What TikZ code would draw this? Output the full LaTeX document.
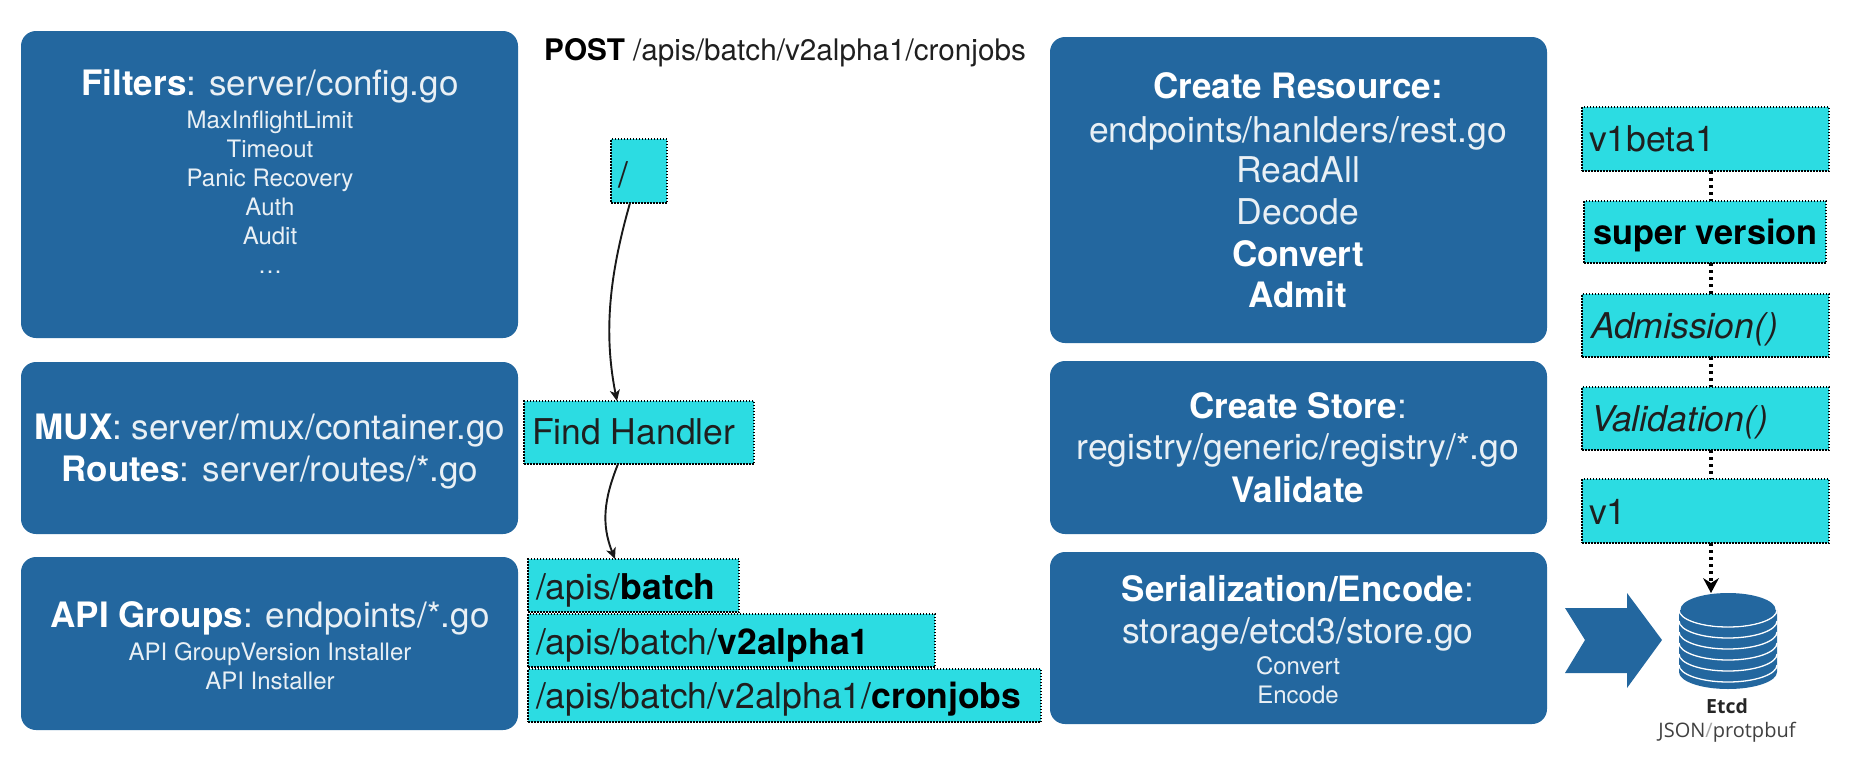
\documentclass[tikz,border=0pt]{standalone}
\usepackage{fontspec}
\setmainfont{TeX Gyre Heros}
\newfontfamily\etcdfont{Open Sans}
\usetikzlibrary{arrows.meta,calc}
\definecolor{panelblue}{HTML}{23679F}
\definecolor{tagcyan}{HTML}{2CDCE2}
\newcommand\fsz[1]{\fontsize{#1}{#1}\selectfont}
\newcommand\hb[1]{{\color{white}\textbf{#1}}}
\newcommand\db[1]{{\color{black}\textbf{#1}}}
\tikzset{
  panel/.style={fill=panelblue,rounded corners=15pt,anchor=north west,inner sep=0pt,outer sep=0pt},
  tag/.style={fill=tagcyan,draw=black,line width=1.5pt,dash pattern=on 1.5pt off 1.5pt,anchor=north west,inner ysep=0pt,outer sep=0pt,align=left,text=black!88,font=\fsz{35.5}},
  lab/.style={anchor=base,inner sep=0pt,text=white!90!panelblue},
  flow/.style={draw=black!90,line width=1.9pt,-{Stealth[length=11pt,width=10pt,inset=3pt]}},
  dotlink/.style={draw=black,line width=3.2pt,dash pattern=on 3.2pt off 3.8pt},
}
% name, x0, y0, x1, y1
\newcommand\panelbox[5]{%
  \pgfmathsetlengthmacro\pw{(#4-#2)*1pt}\pgfmathsetlengthmacro\ph{(#5-#3)*1pt}%
  \node[panel,minimum width=\pw,minimum height=\ph] (#1) at (#2,#3) {};}
% name, x0, y0, x1, y1, baseline, text-left, text
\newcommand\tagbox[8]{%
  \pgfmathsetlengthmacro\tgh{(#6-#3)*1pt}\pgfmathsetlengthmacro\tgd{(#5-#6)*1pt}%
  \pgfmathsetlengthmacro\tgi{(#7-#2)*1pt}\pgfmathsetlengthmacro\tgw{(#4-#2)*1pt-2*\tgi}%
  \node[tag,text height=\tgh,text depth=\tgd,inner xsep=\tgi,text width=\tgw] (#1) at (#2,#3) {\mbox{\spaceskip=0pt\relax\xspaceskip=0pt\relax #8}};}
\begin{document}
\begin{tikzpicture}[x=1pt,y=-1pt]
\useasboundingbox (0,0) rectangle (1866,764);
% panels
\panelbox{filters}{21}{31}{518}{338}
\panelbox{mux}{21}{362}{518}{534}
\panelbox{groups}{21}{557}{518}{730}
\panelbox{resource}{1050}{37}{1547}{343}
\panelbox{store}{1050}{361}{1547}{534}
\panelbox{serial}{1050}{552}{1547}{724}
% panel text
\node[lab,font=\fsz{35}] (t1) at (270,95) {\hb{Filters}: server/config.go};
\node[lab,font=\fsz{24}] (t2) at (270,128) {MaxInflightLimit};
\node[lab,font=\fsz{24}] (t3) at (270,157) {Timeout};
\node[lab,font=\fsz{24}] (t4) at (270,186) {Panic Recovery};
\node[lab,font=\fsz{24}] (t5) at (270,215) {Auth};
\node[lab,font=\fsz{24}] (t6) at (270,244) {Audit};
\node[lab,font=\fsz{24}] (t7) at (270,273) {\dots};
\node[lab,font=\fsz{35}] (t8) at (270,439) {\hb{MUX}: server/mux/container.go};
\node[lab,font=\fsz{35}] (t9) at (270,481) {\hb{Routes}: server/routes/*.go};
\node[lab,font=\fsz{35}] (t10) at (270,627) {\hb{API Groups}: endpoints/*.go};
\node[lab,font=\fsz{24}] (t11) at (270,660) {API GroupVersion Installer};
\node[lab,font=\fsz{24}] (t12) at (270,689) {API Installer};
\node[lab,font=\fsz{35}] (t13) at (1298,98) {\hb{Create Resource:}};
\node[lab,font=\fsz{35.5}] (t14) at (1298,142) {endpoints/hanlders/rest.go};
\node[lab,font=\fsz{35.5}] (t15) at (1298,182) {ReadAll};
\node[lab,font=\fsz{35.5}] (t16) at (1298,224) {Decode};
\node[lab,font=\fsz{35}] (t17) at (1298,266) {\hb{Convert}};
\node[lab,font=\fsz{35}] (t18) at (1298,307) {\hb{Admit}};
\node[lab,font=\fsz{35}] (t19) at (1298,418) {\hb{Create Store}:};
\node[lab,font=\fsz{35.5}] (t20) at (1298,459) {registry/generic/registry/*.go};
\node[lab,font=\fsz{35}] (t21) at (1298,502) {\hb{Validate}};
\node[lab,font=\fsz{35}] (t22) at (1298,601) {\hb{Serialization/Encode}:};
\node[lab,font=\fsz{35.5}] (t23) at (1298,643) {storage/etcd3/store.go};
\node[lab,font=\fsz{24}] (t24) at (1298,674) {Convert};
\node[lab,font=\fsz{24}] (t25) at (1298,703) {Encode};
% request line
\node[anchor=base west,inner sep=0pt,font=\fsz{29.7},text=black!88] (req) at (544,60) {\db{POST} /apis/batch/v2alpha1/cronjobs};
% route tags
\tagbox{root}{611}{139}{667}{203}{187}{618}{/}
\tagbox{find}{524}{401}{754}{464}{444}{532}{Find Handler}
\tagbox{batch}{528}{559}{739}{612}{599}{536}{/apis/\db{batch}}
\tagbox{alpha}{528}{614}{935}{667}{654}{536}{/apis/batch/\db{v2alpha1}}
\tagbox{cron}{528}{669}{1041}{722}{708}{536}{/apis/batch/v2alpha1/\db{cronjobs}}
% version tags
\tagbox{beta}{1582}{107}{1829}{171}{151}{1589}{v1beta1}
\tagbox{super}{1584}{201}{1826}{263}{244}{1593}{\fsz{34.3}\db{super version}}
\tagbox{admission}{1582}{294}{1829}{357}{338}{1591}{\textit{Admission()}}
\tagbox{validation}{1582}{387}{1829}{450}{431}{1591}{\textit{Validation()}}
\tagbox{vone}{1582}{479}{1829}{543}{524}{1589}{v1}
% connectors
\draw[flow] ([xshift=-9pt]root.south) .. controls +(-20,70) and +(-14,-70) .. ([xshift=-22pt]find.north);
\draw[flow] ([xshift=-21pt]find.south) .. controls +(-14,35) and +(-14,-35) .. ([xshift=-18.5pt]batch.north);
\draw[dotlink] ([xshift=5.5pt]beta.south) -- ([xshift=6pt]super.north);
\draw[dotlink] ([xshift=6pt]super.south) -- ([xshift=5.5pt]admission.north);
\draw[dotlink] ([xshift=5.5pt]admission.south) -- ([xshift=5.5pt]validation.north);
\draw[dotlink] ([xshift=5.5pt]validation.south) -- ([xshift=5.5pt]vone.north);
\coordinate (etcdtop) at (1711,593);
\draw[dotlink] ([xshift=5.5pt]vone.south) -- (1711,582);
\fill[black] (etcdtop) -- (1703,578) -- (1711,583) -- (1719,578) -- cycle;
% big chevron
\fill[panelblue] (1565,608) -- (1627,608) -- (1627,593) -- (1662,640) -- (1627,688) -- (1627,673) -- (1565,673) -- (1585,640) -- cycle;
% etcd cylinder
\fill[panelblue] (1679,610) -- (1679,672) arc[start angle=180,end angle=360,x radius=49pt,y radius=17pt] -- (1777,610) -- cycle;
\foreach \yy in {610,621,632,643,654,665}
  \draw[white,line width=1.3pt] (1679,\yy) arc[start angle=180,end angle=360,x radius=49pt,y radius=17pt];
\fill[panelblue] (1728,609.5) ellipse [x radius=47.5pt,y radius=16.5pt];
\node[anchor=base,inner sep=0pt,font=\etcdfont\bfseries\fsz{19.5},text=black!85] (etcdname) at (1727,713) {Etcd};
\node[anchor=base,inner sep=0pt,font=\etcdfont\fsz{20},text=black!75] (etcdfmt) at (1727,737) {JSON{\color{black!35}/}protpbuf};
\end{tikzpicture}
\end{document}
